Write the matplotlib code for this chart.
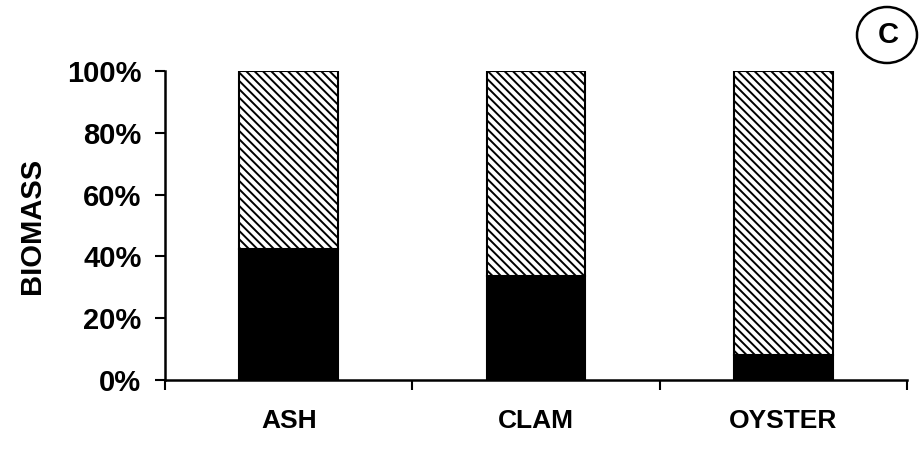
import matplotlib
matplotlib.use("Agg")
import matplotlib.pyplot as plt
from matplotlib.patches import Ellipse
from matplotlib.ticker import FixedLocator

plt.rcParams['font.family'] = ['Liberation Sans', 'DejaVu Sans']
plt.rcParams['hatch.linewidth'] = 1.4

# Biomass composition (%) per site
categories = ["ASH", "CLAM", "OYSTER"]
lower_share = [42.5, 33.5, 8.0]
upper_share = [100 - v for v in lower_share]
y_ticks = [0, 20, 40, 60, 80, 100]
y_tick_labels = ["0%", "20%", "40%", "60%", "80%", "100%"]

fig = plt.figure(figsize=(9.2, 4.5), dpi=100)
ax = fig.add_axes([165 / 920, 70 / 450, (907 - 165) / 920, (380 - 71) / 450])

x = list(range(len(categories)))
ax.bar(x, lower_share, width=0.4, color="black", edgecolor="black", linewidth=1.5)
ax.bar(x, upper_share, width=0.4, bottom=lower_share, color="white",
       edgecolor="black", hatch="\\\\\\\\", linewidth=1.5)

ax.set_xlim(-0.5, len(categories) - 0.5)
ax.set_ylim(0, 100)

ax.set_yticks(y_ticks)
ax.set_yticklabels(y_tick_labels, fontsize=21, fontweight="bold")
ax.set_xticks(x)
ax.set_xticklabels(categories, fontsize=19, fontweight="bold")
ax.xaxis.set_minor_locator(FixedLocator([i - 0.5 for i in range(len(categories) + 1)]))

ax.tick_params(axis="y", which="major", direction="out", length=7, width=1.5, pad=10)
ax.tick_params(axis="x", which="major", length=0, pad=21)
ax.tick_params(axis="x", which="minor", direction="out", length=7, width=1.5)

for side in ("top", "right"):
    ax.spines[side].set_visible(False)
for side in ("left", "bottom"):
    ax.spines[side].set_linewidth(1.8)

ax.set_ylabel("BIOMASS", fontsize=21, fontweight="bold", labelpad=15)

# Panel marker
fig.patches.append(Ellipse((887 / 920, 1 - 35 / 450), 60 / 920, 56 / 450,
                           transform=fig.transFigure, fill=False,
                           edgecolor="black", linewidth=1.8))
fig.text(888 / 920, 1 - 35 / 450, "C", ha="center", va="center",
         fontsize=21, fontweight="bold")

fig.savefig("out.png", dpi=100)
